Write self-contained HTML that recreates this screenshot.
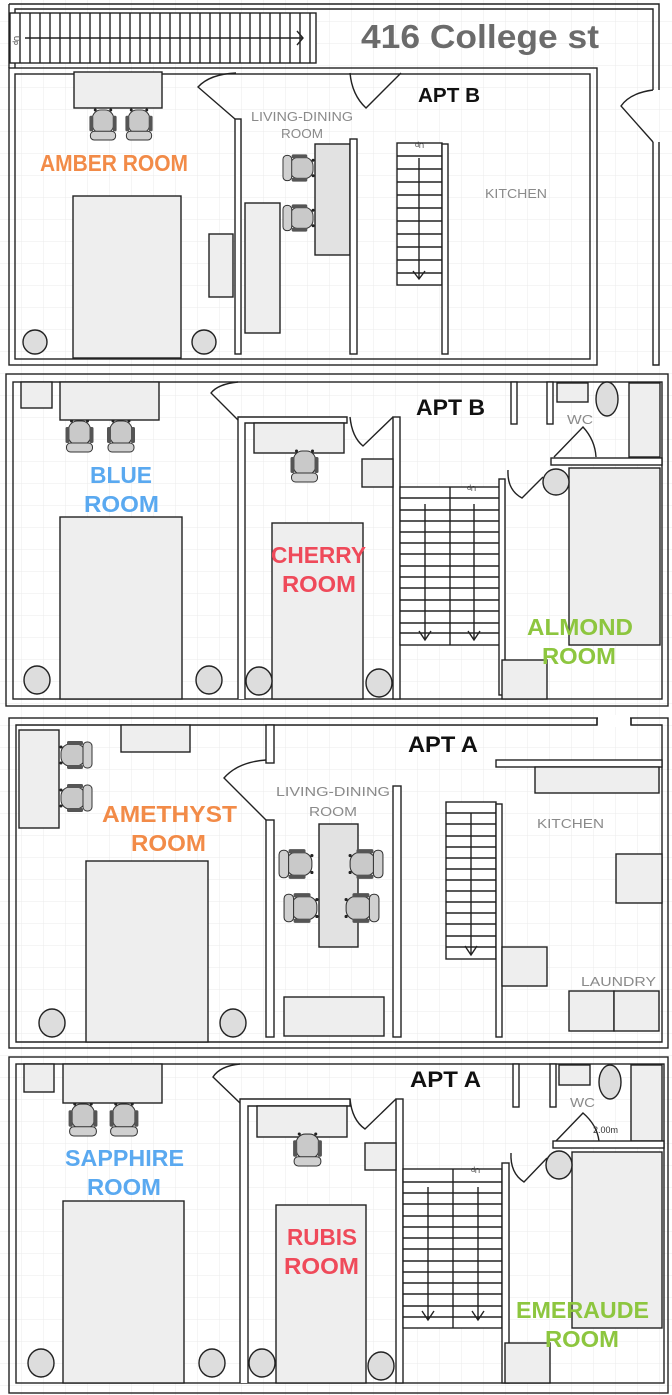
<!DOCTYPE html>
<html><head><meta charset="utf-8"><style>
html,body{margin:0;padding:0;background:#fff;}
svg{display:block;}
text{font-family:"Liberation Sans",sans-serif;}
.b{font-weight:bold;}
.g{fill:#8a8a8a;font-size:13px;}
</style></head><body>
<svg width="672" height="1395" viewBox="0 0 672 1395" xmlns="http://www.w3.org/2000/svg">
<defs>
<pattern id="grid" width="22" height="22" patternUnits="userSpaceOnUse">
<path d="M22 0V22M0 22H22" fill="none" stroke="#ebebeb" stroke-width="1"/>
</pattern>
<symbol id="ch" viewBox="0 0 30 34">
<rect x="4" y="2" width="22" height="24" rx="9" fill="#c9c9c9" stroke="#333" stroke-width="1"/>
<rect x="1" y="8" width="4" height="16" rx="1.5" fill="#555"/>
<rect x="25" y="8" width="4" height="16" rx="1.5" fill="#555"/>
<rect x="2" y="24" width="26" height="9" rx="4" fill="#d0d0d0" stroke="#333" stroke-width="1"/>
<circle cx="7" cy="2" r="1.5" fill="#222"/><circle cx="23" cy="2" r="1.5" fill="#222"/>
</symbol>
</defs>
<rect width="672" height="1395" fill="#fff"/>
<rect width="672" height="1395" fill="url(#grid)"/>

<g fill="none" stroke="#222" stroke-width="1.4">
<!-- ===== SECTION 1 ===== -->
<path d="M9 4H659V90M653 90V9H15V68M9 4V68"/>
<path d="M659 142V365H653V142"/>
<rect x="9" y="68" width="588" height="297"/>
<rect x="15" y="74" width="575" height="285"/>
<!-- stairs horizontal -->
<rect x="10" y="13" width="306" height="50" fill="#fff"/>
<path d="M20 13V63M30 13V63M40 13V63M50 13V63M60 13V63M70 13V63M80 13V63M90 13V63M100 13V63M110 13V63M120 13V63M130 13V63M140 13V63M150 13V63M160 13V63M170 13V63M180 13V63M190 13V63M200 13V63M210 13V63M220 13V63M230 13V63M240 13V63M250 13V63M260 13V63M270 13V63M280 13V63M290 13V63M300 13V63M310 13V63"/>
<path d="M25 38H303M297 31L303 38L297 45"/>
<!-- furniture -->
<rect x="74" y="72" width="88" height="36" fill="#eee"/>
<rect x="73" y="196" width="108" height="162" fill="#eee"/>
<ellipse cx="35" cy="342" rx="12" ry="12" fill="#ddd"/>
<ellipse cx="204" cy="342" rx="12" ry="12" fill="#ddd"/>
<rect x="209" y="234" width="24" height="63" fill="#eee"/>
<rect x="235" y="119" width="6" height="235" fill="#fff"/>
<rect x="245" y="203" width="35" height="130" fill="#eee"/>
<rect x="315" y="144" width="35" height="111" fill="#e2e2e2"/>
<rect x="350" y="139" width="7" height="215" fill="#fff"/>
<rect x="397" y="143" width="45" height="142" fill="#fff"/>
<path d="M397 156H442M397 169H442M397 182H442M397 195H442M397 208H442M397 221H442M397 234H442M397 247H442M397 260H442M397 273H442"/>
<path d="M419 158V279M413 271L419 279L425 271"/>
<rect x="442" y="144" width="6" height="210" fill="#fff"/>
<path d="M235 119L198 87Q210 74 236 73"/>
<path d="M401 73L366 108Q352 95 350 73"/>
<path d="M653 90Q630 93 621 106L653 142"/>

<!-- ===== SECTION 2 ===== -->
<rect x="6" y="374" width="662" height="332"/>
<rect x="13" y="382" width="649" height="317"/>
<rect x="21" y="382" width="31" height="26" fill="#eee"/>
<rect x="60" y="382" width="99" height="38" fill="#eee"/>
<rect x="60" y="517" width="122" height="182" fill="#eee"/>
<ellipse cx="37" cy="680" rx="13" ry="14" fill="#ddd"/>
<ellipse cx="209" cy="680" rx="13" ry="14" fill="#ddd"/>
<path d="M238 699V417H347V423H245V699" fill="#fff"/>
<rect x="393" y="417" width="7" height="282" fill="#fff"/>
<rect x="254" y="423" width="90" height="30" fill="#eee"/>
<rect x="362" y="459" width="31" height="28" fill="#eee"/>
<rect x="272" y="523" width="91" height="176" fill="#eee"/>
<ellipse cx="259" cy="681" rx="13" ry="14" fill="#ddd"/>
<ellipse cx="379" cy="683" rx="13" ry="14" fill="#ddd"/>
<path d="M238 382Q218 384 211 393L238 420"/>
<path d="M350 417Q352 437 363 446L393 417"/>
<rect x="400" y="487" width="100" height="158" fill="#fff"/>
<path d="M400 498H500M400 510H500M400 521H500M400 532H500M400 543H500M400 554H500M400 566H500M400 577H500M400 588H500M400 600H500M400 611H500M400 623H500M400 633H500M450 487V645"/>
<path d="M425 504V640M419 631L425 640L431 631M474 504V640M468 631L474 640L480 631"/>
<rect x="499" y="479" width="6" height="216" fill="#fff"/>
<rect x="502" y="660" width="45" height="39" fill="#eee"/>
<rect x="511" y="382" width="6" height="42" fill="#fff"/>
<rect x="547" y="382" width="6" height="42" fill="#fff"/>
<rect x="557" y="383" width="31" height="19" fill="#eee"/>
<ellipse cx="607" cy="399" rx="11" ry="17" fill="#ddd"/>
<rect x="629" y="383" width="31" height="74" fill="#eee"/>
<rect x="551" y="458" width="111" height="7" fill="#fff"/>
<path d="M554 457L583 427Q595 440 596 457"/>
<rect x="569" y="468" width="91" height="177" fill="#eee"/>
<ellipse cx="556" cy="482" rx="13" ry="13" fill="#ddd"/>
<path d="M508 470Q507 490 522 498L543 477"/>

<!-- ===== SECTION 3 ===== -->
<rect x="9" y="718" width="659" height="330"/>
<path d="M597 718V725H16V1042H662V725H631V718"/>
<path d="M597 725H631" stroke="#fff" stroke-width="0"/>
<rect x="496" y="760" width="166" height="7" fill="#fff"/>
<rect x="19" y="730" width="40" height="98" fill="#eee"/>
<rect x="121" y="725" width="69" height="27" fill="#eee"/>
<rect x="86" y="861" width="122" height="181" fill="#eee"/>
<ellipse cx="52" cy="1023" rx="13" ry="14" fill="#ddd"/>
<ellipse cx="233" cy="1023" rx="13" ry="14" fill="#ddd"/>
<rect x="266" y="725" width="8" height="38" fill="#fff"/>
<rect x="266" y="820" width="8" height="217" fill="#fff"/>
<path d="M266 760Q238 762 224 778L266 820"/>
<rect x="393" y="786" width="8" height="251" fill="#fff"/>
<rect x="319" y="824" width="39" height="123" fill="#e2e2e2"/>
<rect x="284" y="997" width="100" height="39" fill="#eee"/>
<rect x="446" y="802" width="50" height="157" fill="#fff"/>
<path d="M446 813H496M446 824H496M446 836H496M446 847H496M446 858H496M446 869H496M446 880H496M446 891H496M446 902H496M446 913H496M446 924H496M446 936H496M446 947H496"/>
<path d="M471 813V955M465 946L471 955L477 946"/>
<rect x="496" y="804" width="6" height="233" fill="#fff"/>
<rect x="535" y="767" width="124" height="26" fill="#eee"/>
<rect x="616" y="854" width="46" height="49" fill="#eee"/>
<rect x="502" y="947" width="45" height="39" fill="#eee"/>
<rect x="569" y="991" width="45" height="40" fill="#eee"/>
<rect x="614" y="991" width="45" height="40" fill="#eee"/>

<!-- ===== SECTION 4 ===== -->
<rect x="9" y="1057" width="659" height="336"/>
<rect x="16" y="1064" width="648" height="319"/>
<rect x="24" y="1064" width="30" height="28" fill="#eee"/>
<rect x="63" y="1064" width="99" height="39" fill="#eee"/>
<rect x="63" y="1201" width="121" height="182" fill="#eee"/>
<ellipse cx="41" cy="1363" rx="13" ry="14" fill="#ddd"/>
<ellipse cx="212" cy="1363" rx="13" ry="14" fill="#ddd"/>
<path d="M240 1383V1099H350V1106H248V1383" fill="#fff"/>
<rect x="396" y="1099" width="7" height="284" fill="#fff"/>
<path d="M240 1064Q220 1066 213 1077L240 1103"/>
<rect x="257" y="1106" width="90" height="31" fill="#eee"/>
<rect x="365" y="1143" width="31" height="27" fill="#eee"/>
<path d="M350 1099Q352 1120 365 1129L396 1099"/>
<rect x="276" y="1205" width="90" height="178" fill="#eee"/>
<ellipse cx="262" cy="1363" rx="13" ry="14" fill="#ddd"/>
<ellipse cx="381" cy="1366" rx="13" ry="14" fill="#ddd"/>
<rect x="403" y="1169" width="99" height="159" fill="#fff"/>
<path d="M403 1182H502M403 1193H502M403 1204H502M403 1216H502M403 1227H502M403 1238H502M403 1249H502M403 1261H502M403 1272H502M403 1283H502M403 1294H502M403 1306H502M403 1317H502M453 1169V1328"/>
<path d="M428 1187V1320M422 1311L428 1320L434 1311M478 1187V1320M472 1311L478 1320L484 1311"/>
<rect x="502" y="1163" width="7" height="220" fill="#fff"/>
<rect x="505" y="1343" width="45" height="40" fill="#eee"/>
<rect x="513" y="1064" width="6" height="43" fill="#fff"/>
<rect x="550" y="1064" width="6" height="43" fill="#fff"/>
<rect x="559" y="1065" width="31" height="20" fill="#eee"/>
<ellipse cx="610" cy="1082" rx="11" ry="17" fill="#ddd"/>
<rect x="631" y="1065" width="31" height="76" fill="#eee"/>
<rect x="553" y="1141" width="111" height="7" fill="#fff"/>
<path d="M556 1141L583 1113Q597 1125 599 1141"/>
<rect x="572" y="1152" width="90" height="176" fill="#eee"/>
<ellipse cx="559" cy="1165" rx="13" ry="14" fill="#ddd"/>
<path d="M511 1153Q510 1173 524 1182L547 1158"/>
</g>
<!-- door gap section 3 -->
<rect x="598" y="715" width="32" height="12" fill="#fff"/>
<path d="M597 718V725M631 718V725" stroke="#222" stroke-width="1.4"/>

<!-- chairs -->
<use href="#ch" x="88" y="108" width="30" height="33"/>
<use href="#ch" x="124" y="108" width="30" height="33"/>
<use href="#ch" transform="translate(299 168) rotate(90) translate(-15 -16)" width="30" height="33"/>
<use href="#ch" transform="translate(299 218) rotate(90) translate(-15 -16)" width="30" height="33"/>
<use href="#ch" x="62" y="419" width="35" height="34"/>
<use href="#ch" x="103" y="419" width="36" height="34"/>
<use href="#ch" x="287" y="449" width="35" height="34"/>
<use href="#ch" transform="translate(76 755) rotate(-90) translate(-17 -17)" width="34" height="34"/>
<use href="#ch" transform="translate(76 798) rotate(-90) translate(-17 -17)" width="34" height="34"/>
<use href="#ch" transform="translate(296 864) rotate(90) translate(-17 -18)" width="34" height="36"/>
<use href="#ch" transform="translate(301 908) rotate(90) translate(-17 -18)" width="34" height="36"/>
<use href="#ch" transform="translate(366 864) rotate(-90) translate(-17 -18)" width="34" height="36"/>
<use href="#ch" transform="translate(362 908) rotate(-90) translate(-17 -18)" width="34" height="36"/>
<use href="#ch" x="65" y="1102" width="36" height="35"/>
<use href="#ch" x="106" y="1102" width="36" height="35"/>
<use href="#ch" x="290" y="1132" width="35" height="35"/>

<!-- texts -->
<text x="361" y="48" class="b" font-size="33" fill="#6b6b6b" textLength="238" lengthAdjust="spacingAndGlyphs">416 College st</text>
<text x="12" y="38" font-size="7" fill="#333" transform="rotate(90 14 38)">Up</text>

<text x="418" y="102" class="b" font-size="20" fill="#111" textLength="62" lengthAdjust="spacingAndGlyphs">APT B</text>
<text x="416" y="415" class="b" font-size="22" fill="#111" textLength="69" lengthAdjust="spacingAndGlyphs">APT B</text>
<text x="408" y="752" class="b" font-size="22" fill="#111" textLength="70" lengthAdjust="spacingAndGlyphs">APT A</text>
<text x="410" y="1087" class="b" font-size="22" fill="#111" textLength="71" lengthAdjust="spacingAndGlyphs">APT A</text>

<g class="b" font-size="23" lengthAdjust="spacingAndGlyphs">
<text x="40" y="171" fill="#f28b48" textLength="148" lengthAdjust="spacingAndGlyphs">AMBER ROOM</text>
<text x="90" y="483" fill="#5aa9f0" textLength="62" lengthAdjust="spacingAndGlyphs">BLUE</text>
<text x="84" y="512" fill="#5aa9f0" textLength="75" lengthAdjust="spacingAndGlyphs">ROOM</text>
<text x="271" y="563" fill="#ef4a5a" textLength="95" lengthAdjust="spacingAndGlyphs">CHERRY</text>
<text x="282" y="592" fill="#ef4a5a" textLength="74" lengthAdjust="spacingAndGlyphs">ROOM</text>
<text x="527" y="635" fill="#8dc63f" textLength="106" lengthAdjust="spacingAndGlyphs">ALMOND</text>
<text x="542" y="664" fill="#8dc63f" textLength="74" lengthAdjust="spacingAndGlyphs">ROOM</text>
<text x="102" y="822" fill="#f28b48" textLength="135" lengthAdjust="spacingAndGlyphs">AMETHYST</text>
<text x="131" y="851" fill="#f28b48" textLength="75" lengthAdjust="spacingAndGlyphs">ROOM</text>
<text x="65" y="1166" fill="#5aa9f0" textLength="119" lengthAdjust="spacingAndGlyphs">SAPPHIRE</text>
<text x="87" y="1195" fill="#5aa9f0" textLength="74" lengthAdjust="spacingAndGlyphs">ROOM</text>
<text x="287" y="1245" fill="#ef4a5a" textLength="70" lengthAdjust="spacingAndGlyphs">RUBIS</text>
<text x="284" y="1274" fill="#ef4a5a" textLength="75" lengthAdjust="spacingAndGlyphs">ROOM</text>
<text x="516" y="1318" fill="#8dc63f" textLength="133" lengthAdjust="spacingAndGlyphs">EMERAUDE</text>
<text x="545" y="1347" fill="#8dc63f" textLength="74" lengthAdjust="spacingAndGlyphs">ROOM</text>
</g>

<text x="251" y="121" class="g" textLength="102" lengthAdjust="spacingAndGlyphs">LIVING-DINING</text>
<text x="281" y="138" class="g" textLength="42" lengthAdjust="spacingAndGlyphs">ROOM</text>
<text x="485" y="198" class="g" textLength="62" lengthAdjust="spacingAndGlyphs">KITCHEN</text>
<text x="567" y="424" class="g" font-size="14" textLength="26" lengthAdjust="spacingAndGlyphs">WC</text>
<text x="276" y="796" class="g" textLength="114" lengthAdjust="spacingAndGlyphs">LIVING-DINING</text>
<text x="309" y="816" class="g" textLength="48" lengthAdjust="spacingAndGlyphs">ROOM</text>
<text x="537" y="828" class="g" textLength="67" lengthAdjust="spacingAndGlyphs">KITCHEN</text>
<text x="581" y="986" class="g" textLength="75" lengthAdjust="spacingAndGlyphs">LAUNDRY</text>
<text x="570" y="1107" class="g" font-size="14" textLength="25" lengthAdjust="spacingAndGlyphs">WC</text>
<text x="593" y="1133" font-size="9" fill="#333">2.00m</text>
<text x="414" y="147" font-size="7" fill="#333" transform="rotate(180 419 145)">Up</text>
<text x="466" y="490" font-size="7" fill="#333" transform="rotate(180 471 488)">Up</text>
<text x="470" y="1172" font-size="7" fill="#333" transform="rotate(180 475 1170)">Up</text>
</svg>
</body></html>
